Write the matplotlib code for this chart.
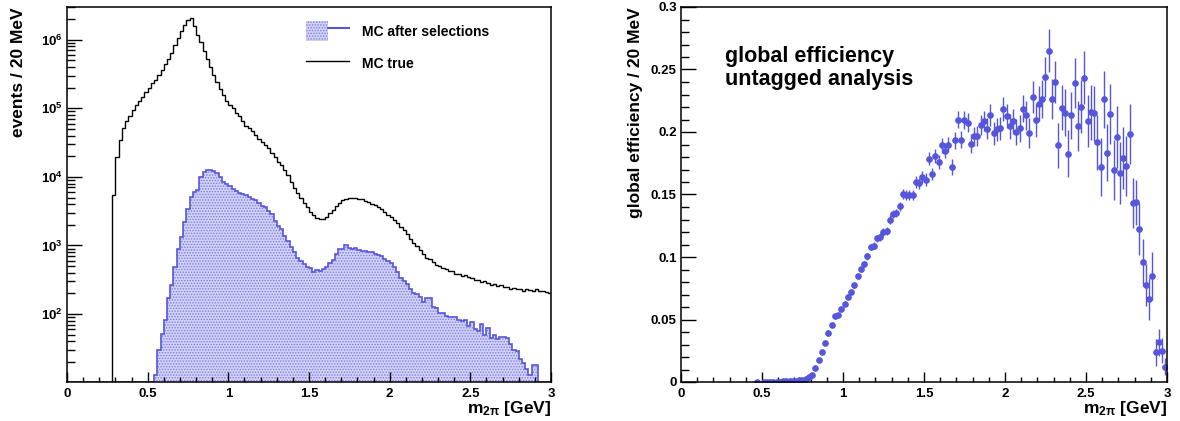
"""Mass spectrum before/after selections and global efficiency (untagged)."""
import numpy as np
import matplotlib
matplotlib.use('Agg')
import matplotlib.pyplot as plt
from matplotlib.patches import Patch
from matplotlib.lines import Line2D
from matplotlib.legend_handler import HandlerTuple
from matplotlib.ticker import FixedLocator, MultipleLocator, FuncFormatter, NullFormatter

plt.rcParams.update({
    'font.family': ['Liberation Sans', 'DejaVu Sans'],
    'font.weight': 'bold',
    'axes.labelweight': 'bold',
    'font.size': 10,
    'mathtext.fontset': 'custom',
    'mathtext.rm': 'Liberation Sans:bold',
    'mathtext.bf': 'Liberation Sans:bold',
    'mathtext.it': 'Liberation Sans:bold',
    'mathtext.default': 'bf',
    'hatch.linewidth': 0.7,
    'axes.linewidth': 1.1,
})

BLUE = '#5656dc'
FILL = '#d2d2f6'
HATCH = '#7c7ce4'

# ---- data: 150 bins of 20 MeV between 0 and 3 GeV ----
# MC true, first non-empty bin is 0.28 GeV (14 empty bins before)
mc_true = [0] * 14 + [
    5400, 19500, 34000, 51000, 65000, 78000, 93000, 110000, 129000, 148000,
    174000, 195000, 234000, 257000, 309000, 363000, 437000, 525000, 646000, 851000,
    1050000, 1320000, 1660000, 1950000, 2090000, 1580000, 1170000, 912000, 692000, 525000,
    398000, 309000, 245000, 191000, 155000, 126000, 112000, 100000, 85000, 76000,
    65000, 56000, 51000, 46000, 41000, 36000, 32000, 29000, 26000, 22000,
    19500, 16600, 15100, 12600, 10500, 8300, 6800, 5750, 5000, 4200,
    3630, 3090, 2750, 2510, 2450, 2450, 2630, 2950, 3310, 3800,
    4170, 4570, 4790, 4900, 4900, 4850, 4790, 4680, 4470, 4270,
    4070, 3890, 3630, 3390, 3090, 2820, 2570, 2340, 2090, 1860,
    1660, 1450, 1260, 1100, 977, 871, 759, 661, 631, 575,
    525, 501, 468, 447, 427, 417, 389, 380, 363, 372,
    347, 339, 316, 316, 295, 302, 282, 269, 275, 257,
    263, 245, 251, 234, 240, 229, 234, 219, 229, 224,
    214, 234, 214, 219, 209, 204,
]

# MC after selections, first non-empty bin is 0.54 GeV, last is 2.90 GeV
mc_sel = [0] * 27 + [
    13, 30, 51, 81, 174, 269, 479, 891, 1320, 2190,
    3390, 5010, 6030, 6460, 10000, 11700, 12600, 12500, 12000, 11200,
    9800, 8300, 7760, 7240, 6760, 6170, 5750, 5620, 5370, 5010,
    4790, 4570, 4170, 3800, 3630, 3160, 2880, 2290, 1950, 1740,
    1380, 1170, 955, 794, 661, 603, 537, 490, 468, 407,
    437, 427, 447, 479, 562, 617, 759, 891, 891, 1000,
    933, 891, 912, 871, 832, 832, 794, 813, 759, 724,
    692, 631, 603, 550, 479, 407, 331, 302, 275, 229,
    204, 195, 178, 151, 170, 170, 126, 123, 105, 102,
    93, 89, 91, 89, 83, 79, 83, 66, 76, 60,
    56, 71, 50, 63, 45, 50, 43, 46, 46, 45,
    36, 30, 29, 22, 19, 16, 13, 18, 18,
] + [0] * 4

# global efficiency per bin (bin centres in GeV)
eff_mass = [0.47] + [round(0.51 + 0.02 * i, 2) for i in range(125)]
eff_value = [
    0.0, 0.0, 0.0, 0.0001, 0.0002, 0.0003, 0.0004, 0.0005, 0.0006, 0.0008,
    0.0010, 0.0012, 0.0015, 0.0019, 0.0026,
    0.0040, 0.0056, 0.0110, 0.0176, 0.0240, 0.0315, 0.0390, 0.0460, 0.0530, 0.0537,
    0.0585, 0.0626, 0.0684, 0.0724, 0.0773, 0.0845, 0.0904, 0.0944, 0.1005, 0.1080,
    0.1090, 0.1150, 0.1160, 0.1200, 0.1210, 0.1300, 0.1345, 0.1353, 0.1406,
    0.1505, 0.1497, 0.1494, 0.1497, 0.1600, 0.1590, 0.1640, 0.1620, 0.1786, 0.1666,
    0.1807, 0.1760, 0.1895, 0.1850, 0.1900, 0.1720, 0.1933, 0.2100, 0.1940, 0.2096,
    0.2075, 0.1906, 0.1967, 0.1967, 0.2053, 0.2088, 0.2027, 0.2136, 0.1989, 0.2021,
    0.2029, 0.2187, 0.2128, 0.2048, 0.2088, 0.2003, 0.2029, 0.2187, 0.2133, 0.1989,
    0.2280, 0.2093, 0.2227, 0.2262, 0.2443, 0.2650, 0.2267, 0.2400, 0.1895, 0.2195,
    0.2155, 0.1826, 0.2133, 0.2390, 0.2048, 0.2203, 0.2436, 0.2088, 0.2160, 0.2150,
    0.1919, 0.1720, 0.2262, 0.1834, 0.2141, 0.1695, 0.1962, 0.1674, 0.1794, 0.1727,
    0.1981, 0.1433,
    0.1440, 0.1225, 0.0957, 0.0778, 0.0663, 0.0850, 0.0238, 0.0318, 0.0251, 0.0123,
]
eff_error = [0.0002] * 15 + [
    0.0006, 0.0007, 0.0009, 0.0011, 0.0012, 0.0013, 0.0014, 0.0015, 0.0016, 0.0016,
    0.0017, 0.0018, 0.0019, 0.0020, 0.0021, 0.0022, 0.0023, 0.0024, 0.0025, 0.0026,
    0.0027, 0.0028, 0.0029, 0.0030, 0.0031, 0.0032, 0.0033, 0.0034, 0.0035,
    0.004, 0.004, 0.004, 0.004, 0.0045, 0.0045, 0.005, 0.005, 0.005, 0.005,
    0.0055, 0.0055, 0.006, 0.006, 0.006, 0.0065, 0.0065, 0.007, 0.007, 0.007,
    0.0075, 0.0075, 0.0075, 0.008, 0.008, 0.008, 0.0085, 0.0085, 0.009, 0.009,
    0.009, 0.0095, 0.0095, 0.010, 0.010, 0.0105, 0.011, 0.011, 0.0115, 0.012,
    0.013, 0.013, 0.014, 0.015, 0.016, 0.017, 0.016, 0.017, 0.018, 0.018,
    0.019, 0.019, 0.019, 0.020, 0.020, 0.021, 0.021, 0.021, 0.022, 0.022,
    0.022, 0.023, 0.023, 0.023, 0.024, 0.024, 0.025, 0.025, 0.025, 0.024,
    0.024, 0.020,
    0.018, 0.021, 0.019, 0.017, 0.017, 0.019, 0.011, 0.011, 0.010, 0.007,
]
assert len(mc_true) == 150 and len(mc_sel) == 150
assert len(eff_mass) == len(eff_value) == len(eff_error)

edges = np.linspace(0.0, 3.0, 151)
YMIN, YMAX = 10.2, 3.0e6

fig = plt.figure(figsize=(11.8, 4.21), dpi=100)
ax1 = fig.add_axes([67 / 1180, 39 / 421, 484 / 1180, 375 / 421])
ax2 = fig.add_axes([681 / 1180, 39 / 421, 486 / 1180, 375 / 421])

# ---- left: spectra ----
true = np.array(mc_true, dtype=float)
sel = np.clip(np.array(mc_sel, dtype=float), YMIN, None)
first = np.nonzero(true)[0][0]

ax1.stairs(sel, edges, baseline=YMIN, fill=True, facecolor=FILL,
           edgecolor=HATCH, hatch='......', linewidth=0)
ax1.stairs(sel, edges, baseline=YMIN, color=BLUE, lw=1.2)
ax1.stairs(true[first:], edges[first:], baseline=YMIN, color='black', lw=1.0)

ax1.set_yscale('log')
ax1.set_xlim(0, 3)
ax1.set_ylim(YMIN, YMAX)
ax1.yaxis.set_major_locator(FixedLocator([1e2, 1e3, 1e4, 1e5, 1e6]))
ax1.yaxis.set_major_formatter(FuncFormatter(lambda v, p: r'$10^{%d}$' % round(np.log10(v))))
ax1.yaxis.set_minor_formatter(NullFormatter())
ax1.set_ylabel('events / 20 MeV', fontsize=12.5, loc='top')
ax1.yaxis.set_label_coords(-0.085, 1.0)

h_sel = (Patch(facecolor=FILL, edgecolor=HATCH, hatch='......', linewidth=0),
         Line2D([], [], color=BLUE, lw=1.5))
h_true = Line2D([], [], color='black', lw=1.0)
ax1.legend([h_sel, h_true], ['MC after selections', 'MC true'],
           handler_map={tuple: HandlerTuple(ndivide=None, pad=0)},
           loc='upper left', bbox_to_anchor=(0.494, 0.963), frameon=False,
           borderpad=0, borderaxespad=0, handlelength=3.1, handleheight=1.9,
           handletextpad=0.9, labelspacing=0.86, fontsize=10)

# ---- right: efficiency ----
ax2.errorbar(eff_mass, eff_value, yerr=eff_error, fmt='o', ms=3.8,
             color=BLUE, ecolor=BLUE, elinewidth=1.0, capsize=0)
ax2.set_xlim(0, 3)
ax2.set_ylim(0, 0.3)
ax2.yaxis.set_major_locator(MultipleLocator(0.05))
ax2.yaxis.set_minor_locator(MultipleLocator(0.01))
ax2.set_ylabel('global efficiency / 20 MeV', fontsize=12.5, loc='top')
ax2.yaxis.set_label_coords(-0.078, 1.0)
ax2.text(0.272, 0.269, 'global efficiency\nuntagged analysis', fontsize=15.5,
         va='top', ha='left', linespacing=1.15)

gfmt = FuncFormatter(lambda v, p: '%g' % round(v, 3))
for ax in (ax1, ax2):
    ax.xaxis.set_major_locator(MultipleLocator(0.5))
    ax.xaxis.set_minor_locator(MultipleLocator(0.1))
    ax.xaxis.set_major_formatter(gfmt)
    ax.set_xlabel(r'm$_{2\pi}$ [GeV]', fontsize=12.5, loc='right')
    ax.xaxis.set_label_coords(1.0, -0.045)
    ax.tick_params(which='both', direction='in', top=False, right=False,
                   labelsize=9.5, width=1.0)
    ax.tick_params(axis='x', which='major', length=7.2, pad=4)
    ax.tick_params(axis='x', which='minor', length=3.6)
    ax.tick_params(axis='y', which='major', length=10.5, pad=3)
    ax.tick_params(axis='y', which='minor', length=5.5)
ax2.yaxis.set_major_formatter(gfmt)

fig.savefig('out.png', dpi=100)
plt.close(fig)
